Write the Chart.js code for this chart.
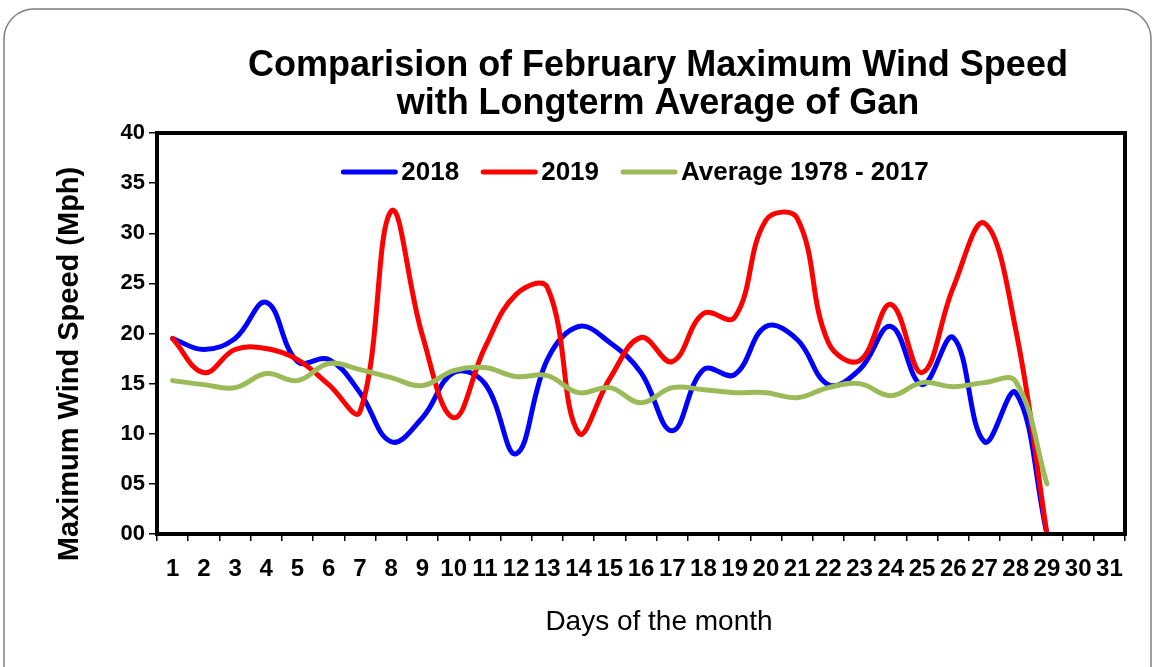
<!DOCTYPE html>
<html>
<head>
<meta charset="utf-8">
<title>February Maximum Wind Speed - Gan</title>
<script src="https://cdn.jsdelivr.net/npm/chart.js@4.4.1/dist/chart.umd.min.js"></script>
<style>
    body { margin: 0; background: #fff; }
    canvas { display: block; }
</style>
</head>
<body>
<canvas id="chart" width="1156" height="667"></canvas>
<script>
// days of February (axis runs to 31)
var days = ['1', '2', '3', '4', '5', '6', '7', '8', '9', '10', '11', '12', '13', '14', '15', '16',
            '17', '18', '19', '20', '21', '22', '23', '24', '25', '26', '27', '28', '29', '30', '31'];

var wind2018 = [19.5, 18.4, 19.5, 23.1, 17.2, 17.4, 14.1, 9.2, 11.6, 16.1, 15.0, 8.0, 17.4, 20.7, 19.1, 16.1,
                10.3, 16.4, 15.9, 20.7, 19.4, 14.9, 16.4, 20.7, 14.9, 19.6, 9.2, 14.1, 0, null, null];

var wind2019 = [19.5, 16.1, 18.4, 18.5, 17.4, 14.9, 12.2, 32.2, 19.8, 11.6, 18.6, 23.9, 24.6, 10.1, 15.5, 19.6,
                17.2, 22.0, 21.6, 31.3, 31.5, 19.1, 17.3, 22.9, 16.1, 24.6, 31.0, 20.4, 0, null, null];

var windAverage = [15.3, 14.9, 14.6, 16.0, 15.3, 17.0, 16.4, 15.6, 14.8, 16.3, 16.6, 15.7, 15.8, 14.1, 14.6, 13.1,
                   14.6, 14.4, 14.1, 14.1, 13.6, 14.6, 15.0, 13.8, 15.1, 14.7, 15.1, 15.2, 5.0, null, null];

var yTicks = [0, 5, 10, 15, 20, 25, 30, 35, 40];

var FONT = '"Liberation Sans", Arial, sans-serif';

// outer rounded frame, plot border, titles and in-plot legend
var decorations = {
    id: 'decorations',
    beforeDraw: function(chart) {
        var ctx = chart.ctx;
        ctx.save();
        ctx.fillStyle = '#fff';
        ctx.fillRect(0, 0, chart.width, chart.height);
        ctx.strokeStyle = '#7f7f7f';
        ctx.lineWidth = 1.5;
        ctx.beginPath();
        ctx.roundRect(4, 9, 1147, 690, 30);
        ctx.stroke();
        ctx.restore();
    },
    afterDraw: function(chart) {
        var ctx = chart.ctx;
        var a = chart.chartArea;
        ctx.save();
        ctx.strokeStyle = '#000';
        ctx.lineWidth = 4;
        ctx.strokeRect(a.left, a.top, a.right - a.left, a.bottom - a.top);

        ctx.fillStyle = '#000';
        ctx.textAlign = 'center';
        ctx.textBaseline = 'alphabetic';
        ctx.font = 'bold 36px ' + FONT;
        ctx.fillText('Comparision of February Maximum Wind Speed', 658, 76);
        ctx.fillText('with Longterm Average of Gan', 658, 114);

        ctx.font = '28px ' + FONT;
        ctx.fillText('Days of the month', 659, 630);

        ctx.save();
        ctx.translate(78, 364);
        ctx.rotate(-Math.PI / 2);
        ctx.font = 'bold 29px ' + FONT;
        ctx.fillText('Maximum Wind Speed (Mph)', 0, 0);
        ctx.restore();

        // legend
        ctx.font = 'bold 26px ' + FONT;
        ctx.textAlign = 'left';
        ctx.textBaseline = 'middle';
        var sets = chart.data.datasets;
        var lineLen = 52, gapText = 6, gapItem = 24;
        var total = 0;
        sets.forEach(function(ds, i) {
            total += lineLen + gapText + ctx.measureText(ds.label).width;
            if (i < sets.length - 1) total += gapItem;
        });
        var x = 636 - total / 2;
        var y = 172;
        sets.forEach(function(ds) {
            ctx.strokeStyle = ds.borderColor;
            ctx.lineWidth = 5;
            ctx.lineCap = 'round';
            ctx.beginPath();
            ctx.moveTo(x, y);
            ctx.lineTo(x + lineLen, y);
            ctx.stroke();
            x += lineLen + gapText;
            ctx.fillText(ds.label, x, y + 1);
            x += ctx.measureText(ds.label).width + gapItem;
        });
        ctx.restore();
    }
};

new Chart(document.getElementById('chart'), {
    type: 'line',
    data: {
        labels: days,
        datasets: [{
            label: '2018',
            data: wind2018,
            borderColor: '#0000ff',
            order: 3
        }, {
            label: '2019',
            data: wind2019,
            borderColor: '#ff0000',
            order: 2
        }, {
            label: 'Average 1978 - 2017',
            data: windAverage,
            borderColor: '#9bbb59',
            order: 1
        }]
    },
    options: {
        responsive: false,
        animation: false,
        devicePixelRatio: 1,
        layout: { padding: { top: 133, right: 31, left: 0, bottom: 0 } },
        elements: {
            line: { borderWidth: 5, tension: 0.4, fill: false, borderCapStyle: 'round', borderJoinStyle: 'round' },
            point: { radius: 0 }
        },
        plugins: {
            legend: { display: false },
            title: { display: false },
            tooltip: { enabled: false }
        },
        scales: {
            x: {
                offset: true,
                grid: { display: true, offset: true, drawOnChartArea: false, tickLength: 7, color: '#000', lineWidth: 1.5 },
                border: { display: true, width: 4, color: '#000' },
                ticks: {
                    autoSkip: false, maxRotation: 0, padding: 14, color: '#000',
                    font: { family: FONT, size: 24, weight: 'bold' }
                },
                afterFit: function(scale) { scale.height = 133; }
            },
            y: {
                min: 0,
                max: 40,
                afterBuildTicks: function(scale) {
                    scale.ticks = yTicks.map(function(v) { return { value: v }; });
                },
                grid: { display: true, drawOnChartArea: false, tickLength: 8, color: '#000', lineWidth: 1.5 },
                border: { display: true, width: 4, color: '#000' },
                ticks: {
                    padding: 4, color: '#000',
                    font: { family: FONT, size: 22, weight: 'bold' },
                    callback: function(v) { return String(v).padStart(2, '0'); }
                },
                afterFit: function(scale) { scale.width = 157; }
            }
        }
    },
    plugins: [decorations]
});
</script>
</body>
</html>
